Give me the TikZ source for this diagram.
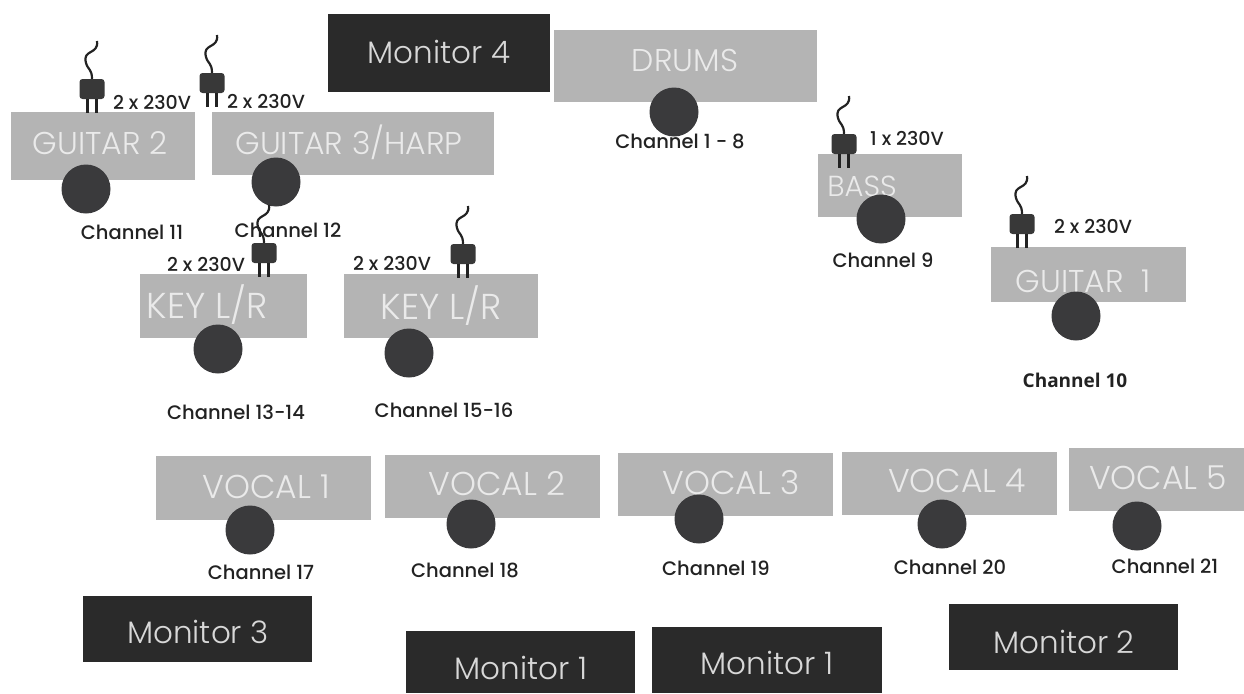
\documentclass[tikz,border=0pt]{standalone}
\usepackage{fontspec}
\setmainfont{Poppins Medium}
\newfontfamily\boxfont{Poppins Light}
\newfontfamily\chanbold{Open Sans}[BoldFont=* Bold]
\definecolor{boxgrey}{HTML}{B4B4B4}
\definecolor{boxtext}{HTML}{EAEAEA}
\definecolor{mondark}{HTML}{2A2A2A}
\definecolor{montext}{HTML}{D8D8D8}
\definecolor{dotdark}{HTML}{3A3A3C}
\definecolor{ink}{HTML}{222222}
\newcommand{\pxbox}[7]{% name, x0,y0,x1,y1, style, unused
  \node[#6,minimum width=#4pt-#2pt,minimum height=#5pt-#3pt] (#1) at ({(#2+#4)/2},{(#3+#5)/2}) {};}
\newcommand{\plugicon}[3]{% name, centre x, top y of body
  \node[plugbody] (#1) at (#2,#3+10) {};
  \coordinate (#1w) at (#2+5,#3-38);
  \draw[wire] (#1w) .. controls (#2+7,#3-24) and (#2-10,#3-30) .. (#2-6,#3-16) .. controls (#2-4,#3-9) and (#2,#3-10) .. (#1.north);
  \draw[prong] ([xshift=-4.5pt]#1.south) -- ++(0,14);
  \draw[prong] ([xshift=4.5pt]#1.south) -- ++(0,14);}
\tikzset{
  greybox/.style={fill=boxgrey,draw=none,inner sep=0pt},
  darkbox/.style={fill=mondark,draw=none,inner sep=0pt},
  boxlabel/.style={text=boxtext,font=\boxfont\fontsize{#1}{#1}\selectfont,inner sep=0pt},
  boxlabel/.default=31.5,
  monlabel/.style={text=montext,font=\boxfont\fontsize{31}{33}\selectfont,inner sep=0pt},
  dot/.style={circle,fill=dotdark,draw=none,minimum size=49pt,inner sep=0pt},
  chan/.style={text=ink,font=\fontsize{19.5}{21}\selectfont,inner sep=0pt},
  volt/.style={text=ink,font=\fontsize{19}{21}\selectfont,inner sep=0pt},
  plugbody/.style={fill=ink!90!white,rounded corners=3pt,minimum width=25pt,minimum height=20pt,inner sep=0pt},
  wire/.style={draw=ink,line width=2.2pt},
  prong/.style={draw=ink,line width=2.4pt},
}
\begin{document}
\begin{tikzpicture}[x=1pt,y=-1pt]
\useasboundingbox (0,0) rectangle (1244,693);
% dark monitors
\pxbox{m4}{328}{14}{550}{92}{darkbox}{}
\pxbox{m3}{83}{596}{312}{662}{darkbox}{}
\pxbox{m1a}{406}{631}{635}{693}{darkbox}{}
\pxbox{m1b}{652}{627}{882}{693}{darkbox}{}
\pxbox{m2}{949}{604}{1178}{670}{darkbox}{}
\node[monlabel] (m4t) at (439,52) {Monitor 4};
\node[monlabel] (m3t) at (198,632) {Monitor 3};
\node[monlabel] (m1at) at (521,668) {Monitor 1};
\node[monlabel] (m1bt) at (767,663) {Monitor 1};
\node[monlabel] (m2t) at (1064,642) {Monitor 2};
% grey boxes
\pxbox{drums}{554}{30}{817}{102}{greybox}{}
\pxbox{g2}{11}{112}{195}{180}{greybox}{}
\pxbox{g3}{212}{112}{494}{175}{greybox}{}
\pxbox{k1}{140}{274}{307}{338}{greybox}{}
\pxbox{k2}{344}{274}{538}{338}{greybox}{}
\pxbox{bass}{818}{154}{962}{217}{greybox}{}
\pxbox{g1}{991}{247}{1186}{302}{greybox}{}
\pxbox{v1}{156}{456}{371}{520}{greybox}{}
\pxbox{v2}{385}{455}{600}{518}{greybox}{}
\pxbox{v3}{618}{453}{833}{516}{greybox}{}
\pxbox{v4}{842}{452}{1057}{515}{greybox}{}
\pxbox{v5}{1069}{448}{1244}{511}{greybox}{}
\node[boxlabel] (drumst) at (685,60) {DRUMS};
\node[boxlabel] (g2t) at (100,143) {GUITAR 2};
\node[boxlabel] (g3t) at (349,142) {GUITAR 3/HARP};
\node[boxlabel=36] (k1t) at (207,305) {KEY L/R};
\node[boxlabel=36] (k2t) at (441,306) {KEY L/R};
\node[boxlabel=29] (basst) at (862,186) {BASS};
\node[boxlabel] (g1t) at (1083,281) {GUITAR\ \ 1};
\node[boxlabel=33] (v1t) at (266,487) {VOCAL 1};
\node[boxlabel=33] (v2t) at (497,484) {VOCAL 2};
\node[boxlabel=33] (v3t) at (731,483) {VOCAL 3};
\node[boxlabel=33] (v4t) at (957,481) {VOCAL 4};
\node[boxlabel=33] (v5t) at (1158,478) {VOCAL 5};
% dots
\node[dot] (d0) at (674,112) {};
\node[dot] (d1) at (86,189) {};
\node[dot] (d2) at (276,182) {};
\node[dot] (d3) at (218,349) {};
\node[dot] (d4) at (409,353) {};
\node[dot] (d5) at (881,219) {};
\node[dot] (d6) at (1076,316) {};
\node[dot] (d7) at (250,530) {};
\node[dot] (d8) at (471,524) {};
\node[dot] (d9) at (699,519) {};
\node[dot] (d10) at (942,524) {};
\node[dot] (d11) at (1137,526) {};
% channel labels
\node[chan] (c0) at (680,141) {Channel 1 - 8};
\node[chan] (c1) at (132,232) {Channel 11};
\node[chan] (c2) at (288,230) {Channel 12};
\node[chan] (c3) at (236,412) {Channel 13-14};
\node[chan] (c4) at (444,410) {Channel 15-16};
\node[chan] (c5) at (883,260) {Channel 9};
\node[chan,font=\chanbold\bfseries\fontsize{19}{21}\selectfont] (c6) at (1075,380) {Channel 10};
\node[chan] (c7) at (261,572) {Channel 17};
\node[chan] (c8) at (465,570) {Channel 18};
\node[chan] (c9) at (716,568) {Channel 19};
\node[chan] (c10) at (950,567) {Channel 20};
\node[chan] (c11) at (1165,566) {Channel 21};
% plugs
\plugicon{p1}{92}{79}
\plugicon{p2}{212}{73}
\plugicon{p3}{264}{243}
\plugicon{p4}{463}{244}
\plugicon{p5}{844}{134}
\plugicon{p6}{1022}{214}
% voltage
\node[volt] (u1) at (152,102) {2 x 230V};
\node[volt] (u2) at (266,101) {2 x 230V};
\node[volt] (u3) at (206,264) {2 x 230V};
\node[volt] (u4) at (392,263) {2 x 230V};
\node[volt] (u5) at (907,138) {1 x 230V};
\node[volt] (u6) at (1093,226) {2 x 230V};
\end{tikzpicture}
\end{document}
